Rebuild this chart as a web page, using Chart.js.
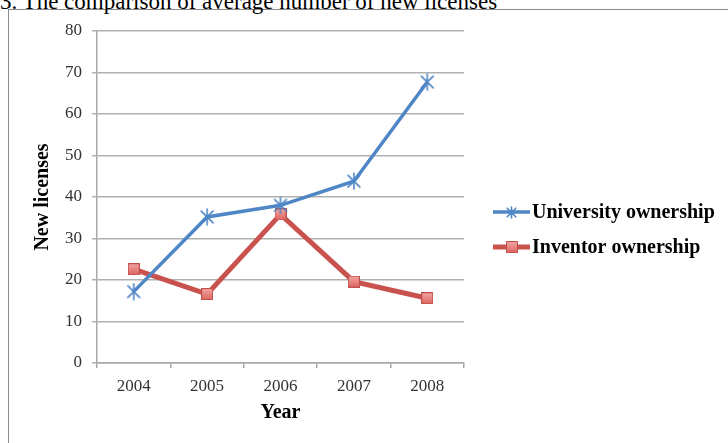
<!DOCTYPE html>
<html><head><meta charset="utf-8">
<script src="https://cdn.jsdelivr.net/npm/chart.js@4.4.0/dist/chart.umd.min.js"></script>
<style>
html,body{margin:0;padding:0;background:#fff;overflow:hidden;width:728px;height:443px;}
#frame{position:absolute;left:8px;top:9px;width:800px;height:500px;border:1px solid #8a8a8a;}
#title{position:absolute;left:0;top:-10px;font:23px "Liberation Serif";white-space:nowrap;line-height:24px;color:#000}
#wrap{position:absolute;left:0;top:0;width:728px;height:443px;}
</style></head><body>
<div id="frame"></div>
<div id="title">3. The comparison of average number of new licenses</div>
<div id="wrap"><canvas id="c" width="728" height="443"></canvas></div>
<script>
const years = ['2004','2005','2006','2007','2008'];
const university = [17.2, 35.2, 38.0, 43.8, 67.7];
const inventor = [22.6, 16.6, 35.8, 19.6, 15.6];
const seriesNames = ['University ownership','Inventor ownership'];
const yTicks = [0,10,20,30,40,50,60,70,80];

const BLUE = '#4f86c6', RED = '#c9524e';
const SERIF = '"Liberation Serif", "Times New Roman", serif';

function starImg(s){
  const c=document.createElement('canvas'); c.width=s; c.height=s;
  const x=c.getContext('2d'); x.strokeStyle=BLUE; x.lineWidth=1.6; x.lineCap='round';
  const m=s/2, a=s*0.17, b=s-a;
  x.beginPath();
  x.moveTo(a,a); x.lineTo(b,b);
  x.moveTo(b,a); x.lineTo(a,b);
  x.moveTo(m,1); x.lineTo(m,s-1);
  x.stroke();
  return c;
}
function squareImg(){
  const c=document.createElement('canvas'); c.width=12; c.height=12;
  const x=c.getContext('2d');
  const g=x.createLinearGradient(0,0,0,12); g.addColorStop(0,'#f4a9a5'); g.addColorStop(1,'#dc625d');
  x.fillStyle=g; x.fillRect(0.5,0.5,11,11);
  x.strokeStyle='#c0504d'; x.lineWidth=1; x.strokeRect(0.5,0.5,11,11);
  return c;
}
const star = starImg(18), starSmall = starImg(13), sq = squareImg();
const legendMarkers = [starSmall, sq];

const legendPlugin = {
  id:'customLegend',
  afterDraw(chart){
    const ctx=chart.ctx;
    chart.data.datasets.forEach((ds,i)=>{
      const y = 212 + i*35;
      ctx.save();
      ctx.strokeStyle = ds.borderColor; ctx.lineWidth = ds.borderWidth; ctx.lineCap='butt';
      ctx.beginPath(); ctx.moveTo(493,y); ctx.lineTo(530,y); ctx.stroke();
      const img = legendMarkers[i];
      ctx.drawImage(img, Math.round(511.5 - img.width/2), Math.round(y - img.height/2));
      ctx.fillStyle = '#000';
      ctx.font = 'bold 20px ' + SERIF;
      ctx.textBaseline = 'middle'; ctx.textAlign='left';
      ctx.fillText(ds.label, 532, y+1);
      ctx.restore();
    });
  }
};

new Chart(document.getElementById('c'), {
  type:'line',
  data:{
    labels: years,
    datasets:[
      {label: seriesNames[0], data: university, borderColor: BLUE, borderWidth: 3.5, pointStyle: star, pointRadius: 9, tension:0},
      {label: seriesNames[1], data: inventor, borderColor: RED, borderWidth: 5, pointStyle: sq, pointRadius: 6, tension:0}
    ]
  },
  options:{
    responsive:false, animation:false, devicePixelRatio:1,
    layout:{padding:{left:8, top:31, right:264, bottom:0}},
    plugins:{legend:{display:false}, tooltip:{enabled:false}},
    scales:{
      x:{
        offset:true,
        afterFit(s){ s.height = 80; },
        grid:{offset:true, drawOnChartArea:false, tickLength:5, color:'#a8a8a8', lineWidth:1.5},
        border:{color:'#a8a8a8', width:1.5},
        ticks:{font:{family:SERIF, size:17}, color:'#333', padding:8},
        title:{display:true, text:'Year', font:{family:SERIF, size:20, weight:'bold'}, color:'#000', padding:{top:0,bottom:18}}
      },
      y:{
        min:0, max:80,
        afterFit(s){ s.width = 89; },
        afterBuildTicks(s){ s.ticks = yTicks.map(v=>({value:v})); },
        grid:{color:'#b0b0b0', lineWidth:1.5, tickLength:5},
        border:{color:'#a8a8a8', width:1.5},
        ticks:{font:{family:SERIF, size:17}, color:'#333', padding:10},
        title:{display:true, text:'New licenses', font:{family:SERIF, size:20, weight:'bold'}, color:'#000', padding:{top:23,bottom:0}}
      }
    }
  },
  plugins:[legendPlugin]
});
</script>
</body></html>
